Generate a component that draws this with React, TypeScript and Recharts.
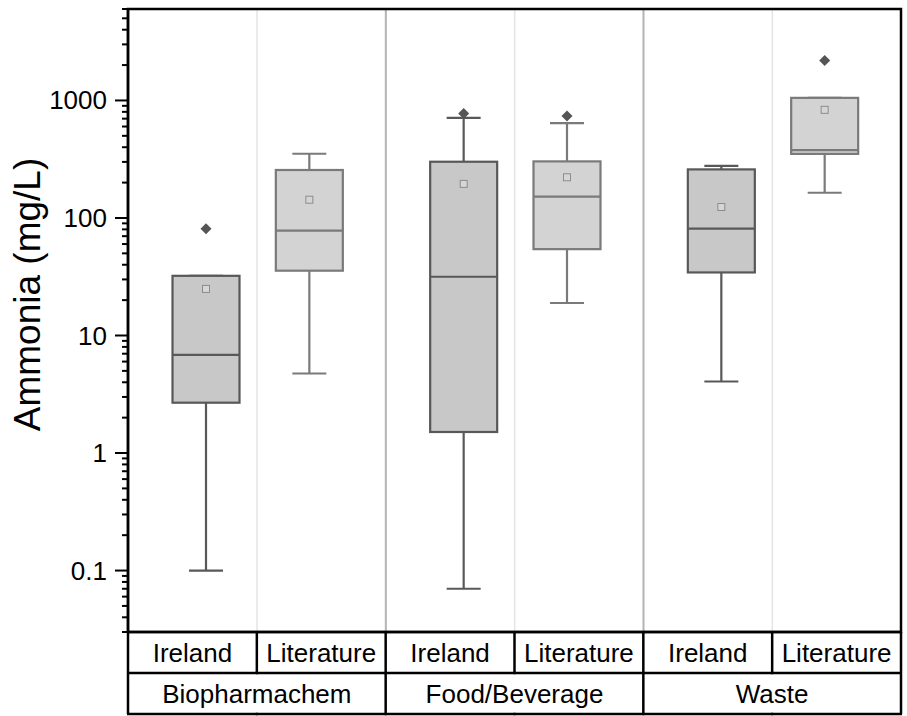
import { ComposedChart, Bar, XAxis, YAxis, ReferenceArea } from 'recharts';

const subgroups = ['Ireland', 'Literature', 'Ireland', 'Literature', 'Ireland', 'Literature'];
const groups = ['Biopharmachem', 'Food/Beverage', 'Waste'];
const whiskerLow = [0.1, 4.75, 0.07, 18.9, 4.06, 164];
const q1 = [2.68, 35.6, 1.51, 54.3, 34.4, 351];
const median = [6.85, 78, 31.6, 152, 81.3, 378];
const q3 = [32.2, 256, 301, 303, 259, 1052];
const whiskerHigh = [32.2, 352, 711, 641, 277, 1052];
const mean = [24.9, 143, 195, 222, 124, 832];
const outlier: (number | null)[] = [81, null, 776, 736, null, 2190];

const majorTicks = [0.1, 1, 10, 100, 1000];
const minorSteps = [2, 3, 4, 5, 6, 7, 8, 9];
const decades = [0.01, 0.1, 1, 10, 100, 1000];
const yDomain = [0.03, 6000];

const minorTicks = decades
  .flatMap((d) => minorSteps.map((m) => d * m))
  .filter((v) => v >= yDomain[0] * 0.999 && v <= yDomain[1] * 1.001);
const allTicks = [...minorTicks, ...majorTicks].sort((a, b) => a - b);

const data = subgroups.map((name, i) => ({
  name,
  lo: whiskerLow[i],
  q1: q1[i],
  median: median[i],
  q3: q3[i],
  hi: whiskerHigh[i],
  mean: mean[i],
  outlier: outlier[i],
}));

const W = 907;
const H = 716;
const MARGIN = { top: 9, right: 6, bottom: 0, left: 0 };
const Y_AXIS_W = 128;
const X_AXIS_H = 84;
const BAND = (W - MARGIN.left - MARGIN.right - Y_AXIS_W) / subgroups.length;
const ROW = 41;
const FONT = '"Liberation Sans", Arial, sans-serif';
const LABEL_SIZE = 26;

function YTick(props: any) {
  const { x, y, payload } = props;
  const v = payload.value;
  const major = majorTicks.includes(v);
  return (
    <g>
      <line x1={x - (major ? 13 : 6)} x2={x} y1={y} y2={y} stroke="#000" strokeWidth={2} />
      {major && (
        <text x={x - 21} y={y} dy={9} textAnchor="end" fontSize={LABEL_SIZE} fontFamily={FONT} fill="#000">
          {v}
        </text>
      )}
    </g>
  );
}

function XTick(props: any) {
  const { x, y, index } = props;
  const left = x - BAND / 2;
  const right = x + BAND / 2;
  const first = index % 2 === 0;
  const last = index === subgroups.length - 1;
  return (
    <g>
      <line x1={left - 1} x2={right + 1} y1={y + ROW} y2={y + ROW} stroke="#000" strokeWidth={2.5} />
      <line x1={left - 1} x2={right + 1} y1={y + 2 * ROW} y2={y + 2 * ROW} stroke="#000" strokeWidth={2.5} />
      <line x1={left} x2={left} y1={y} y2={y + (first ? 2 * ROW : ROW)} stroke="#000" strokeWidth={2.5} />
      {last && <line x1={right} x2={right} y1={y} y2={y + 2 * ROW} stroke="#000" strokeWidth={2.5} />}
      <text x={x} y={y + ROW / 2} dy={9} textAnchor="middle" fontSize={LABEL_SIZE} fontFamily={FONT} fill="#000">
        {subgroups[index]}
      </text>
      {first && (
        <text x={right} y={y + ROW * 1.5} dy={9} textAnchor="middle" fontSize={LABEL_SIZE} fontFamily={FONT} fill="#000">
          {groups[index / 2]}
        </text>
      )}
    </g>
  );
}

function Divider(props: any) {
  const { x, y, width, height, index } = props;
  if (index === subgroups.length - 1) return <g />;
  const groupEdge = index % 2 === 1;
  return (
    <line
      x1={x + width}
      x2={x + width}
      y1={y}
      y2={y + height}
      stroke={groupEdge ? '#b4b4b4' : '#e4e4e4'}
      strokeWidth={groupEdge ? 2 : 1.5}
    />
  );
}

function BoxShape(props: any) {
  const { x, y, width, height, payload, index } = props;
  const d = payload;
  const lo = d.lo;
  const hi = Math.max(d.hi, d.outlier ?? d.hi);
  const top = Math.min(y, y + height);
  const bot = Math.max(y, y + height);
  const L = Math.log10;
  const py = (v: number) => top + ((bot - top) * (L(hi) - L(v))) / (L(hi) - L(lo));
  const ireland = index % 2 === 0;
  const cx = x + width / 2 + (ireland ? 13.5 : -12);
  const stroke = ireland ? '#585858' : '#7a7a7a';
  const fill = ireland ? '#c8c8c8' : '#d3d3d3';
  const bw = 33.5;
  const cap = 17;
  return (
    <g>
      <line x1={cx} x2={cx} y1={py(d.hi)} y2={py(d.q3)} stroke={stroke} strokeWidth={2.2} />
      <line x1={cx} x2={cx} y1={py(d.q1)} y2={py(d.lo)} stroke={stroke} strokeWidth={2.2} />
      <line x1={cx - cap} x2={cx + cap} y1={py(d.hi)} y2={py(d.hi)} stroke={stroke} strokeWidth={2.2} />
      <line x1={cx - cap} x2={cx + cap} y1={py(d.lo)} y2={py(d.lo)} stroke={stroke} strokeWidth={2.2} />
      <rect
        x={cx - bw}
        y={py(d.q3)}
        width={bw * 2}
        height={py(d.q1) - py(d.q3)}
        fill={fill}
        stroke={stroke}
        strokeWidth={2.2}
      />
      <line x1={cx - bw} x2={cx + bw} y1={py(d.median)} y2={py(d.median)} stroke={stroke} strokeWidth={2.2} />
      <rect x={cx - 3.5} y={py(d.mean) - 3.5} width={7} height={7} fill="#d6d6d6" stroke="#8c8c8c" strokeWidth={1} />
      {d.outlier != null && (
        <polygon
          points={`${cx},${py(d.outlier) - 5.5} ${cx + 5.5},${py(d.outlier)} ${cx},${py(d.outlier) + 5.5} ${cx - 5.5},${py(d.outlier)}`}
          fill="#555"
        />
      )}
    </g>
  );
}

export default function App() {
  return (
    <div style={{ position: 'absolute', left: 0, top: 0, fontFamily: FONT }}>
      <ComposedChart width={W} height={H} data={data} margin={MARGIN} barCategoryGap={0}>
        <XAxis
          dataKey="name"
          height={X_AXIS_H}
          tickLine={false}
          tickSize={0}
          tickMargin={0}
          interval={0}
          axisLine={{ stroke: '#000', strokeWidth: 2.5 }}
          tick={<XTick />}
        />
        <YAxis
          scale="log"
          domain={yDomain}
          allowDataOverflow
          ticks={allTicks}
          interval={0}
          width={Y_AXIS_W}
          tickLine={false}
          tickSize={0}
          tickMargin={0}
          axisLine={{ stroke: '#000', strokeWidth: 2.5 }}
          tick={<YTick />}
          label={{
            content: ({ viewBox }: any) => {
              const cx = viewBox.x + 27;
              const cy = viewBox.y + viewBox.height / 2 - 26;
              return (
                <text
                  x={cx}
                  y={cy}
                  transform={`rotate(-90 ${cx} ${cy})`}
                  textAnchor="middle"
                  dominantBaseline="central"
                  fontSize={37}
                  fontFamily={FONT}
                  fill="#000"
                >
                  Ammonia (mg/L)
                </text>
              );
            },
          }}
        />
        <Bar
          dataKey={(d: any) => [d.lo, Math.max(d.hi, d.outlier ?? d.hi)]}
          shape={<BoxShape />}
          background={<Divider />}
          isAnimationActive={false}
        />
        <ReferenceArea y1={yDomain[0]} y2={yDomain[1]} fill="none" stroke="#000" strokeWidth={2.5} ifOverflow="visible" />
      </ComposedChart>
    </div>
  );
}
